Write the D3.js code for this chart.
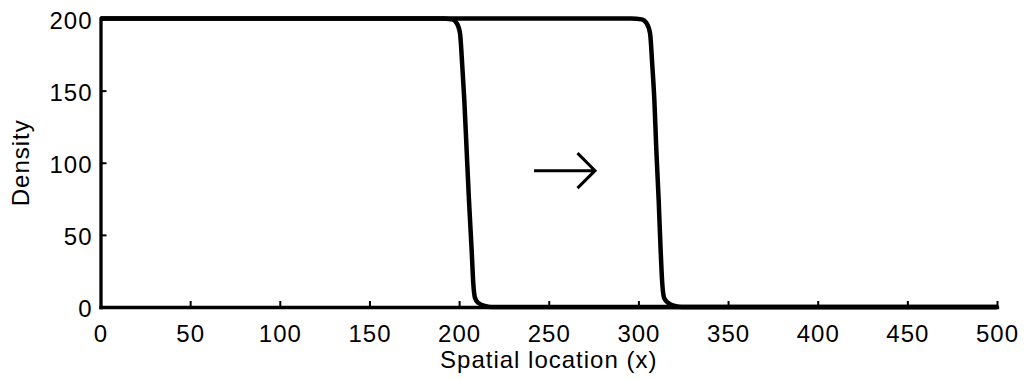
<!DOCTYPE html>
<html>
<head>
<meta charset="utf-8">
<script src="https://cdn.jsdelivr.net/npm/d3@7"></script>
<style>
  html, body { margin: 0; padding: 0; background: #fff; }
  svg text { font-family: "Liberation Sans", Arial, sans-serif; fill: #000; }
</style>
</head>
<body>
<svg id="chart" width="1030" height="380"></svg>
<script>
// Two snapshots of a travelling density front
const xTicks = [0, 50, 100, 150, 200, 250, 300, 350, 400, 450, 500];
const yTicks = [0, 50, 100, 150, 200];

const earlyX       = [0, 190, 195.9, 198.7, 200.5, 201.8, 202.9, 204.2, 205.5, 207.0, 207.9, 208.9, 210.7, 214.4, 218, 500];
const earlyDensity = [200, 200, 199.4, 196.7, 189.7, 166.6, 143.5, 108.8, 74.2, 39.5, 16.6, 6.2, 2.8, 0.7, 0, 0];

const laterX       = [0, 296, 301.8, 304.6, 306.5, 307.8, 308.9, 310.0, 311.3, 312.4, 313.3, 314.4, 316.7, 320.4, 324, 500];
const laterDensity = [200, 200, 199.4, 196.7, 189.7, 166.6, 143.5, 108.8, 74.2, 39.5, 16.6, 6.2, 2.8, 0.7, 0, 0];

// direction-of-travel arrow, in data units
const arrowFrom = [241.8, 94.5];
const arrowTo   = [275.8, 94.5];

const xLabel = "Spatial location (x)";
const yLabel = "Density";

const svg = d3.select("#chart");
const x = d3.scaleLinear().domain([0, 500]).range([100.5, 997]);
const y = d3.scaleLinear().domain([0, 200]).range([307, 18.5]);

const line = d3.line()
  .x(d => x(d[0]))
  .y(d => y(d[1]))
  .curve(d3.curveMonotoneX);

const fronts = [
  d3.zip(earlyX, earlyDensity),
  d3.zip(laterX, laterDensity)
];

svg.append("g")
  .selectAll("path")
  .data(fronts)
  .join("path")
  .attr("d", line)
  .attr("fill", "none")
  .attr("stroke", "#000")
  .attr("stroke-width", 4.5)
  .attr("stroke-linejoin", "round");

// x axis with ticks pointing into the plot
const xAxis = svg.append("g")
  .attr("transform", `translate(0,${y(0)})`)
  .call(d3.axisBottom(x).tickValues(xTicks).tickSizeInner(-6).tickSizeOuter(0).tickPadding(10));

// y axis with ticks pointing into the plot
const yAxis = svg.append("g")
  .attr("transform", `translate(${x(0)},0)`)
  .call(d3.axisLeft(y).tickValues(yTicks).tickSizeInner(-6).tickSizeOuter(0).tickPadding(8));

[xAxis, yAxis].forEach(g => {
  g.select(".domain").attr("stroke", "#000").attr("stroke-width", 3.3).attr("stroke-linecap", "square");
  g.selectAll(".tick line").attr("stroke", "#000").attr("stroke-width", 2);
  g.selectAll(".tick text")
    .attr("font-size", 24)
    .attr("letter-spacing", "1px")
    .attr("font-family", "Liberation Sans, Arial, sans-serif")
    .attr("fill", "#000");
});
xAxis.selectAll(".tick text").attr("y", 35).attr("dy", 0);
yAxis.selectAll(".tick text").attr("dy", "0.4em").attr("x", -8);

svg.append("text")
  .attr("x", (x(0) + x(500)) / 2)
  .attr("y", 368)
  .attr("text-anchor", "middle")
  .attr("font-size", 24)
  .attr("letter-spacing", "1px")
  .text(xLabel);

svg.append("text")
  .attr("transform", `translate(28.5,${(y(0) + y(200)) / 2}) rotate(-90)`)
  .attr("text-anchor", "middle")
  .attr("font-size", 24)
  .attr("letter-spacing", "1px")
  .text(yLabel);

// open-headed arrow showing the direction the front moves
const ax0 = x(arrowFrom[0]), ax1 = x(arrowTo[0]), ay = y(arrowTo[1]);
const head = 17.5;
const arrowPath = d3.path();
arrowPath.moveTo(ax0, ay);
arrowPath.lineTo(ax1, ay);
arrowPath.moveTo(ax1 - head, ay - head);
arrowPath.lineTo(ax1, ay);
arrowPath.lineTo(ax1 - head, ay + head);
svg.append("path")
  .attr("d", arrowPath.toString())
  .attr("fill", "none")
  .attr("stroke", "#000")
  .attr("stroke-width", 3)
  .attr("stroke-linejoin", "miter");
</script>
</body>
</html>
